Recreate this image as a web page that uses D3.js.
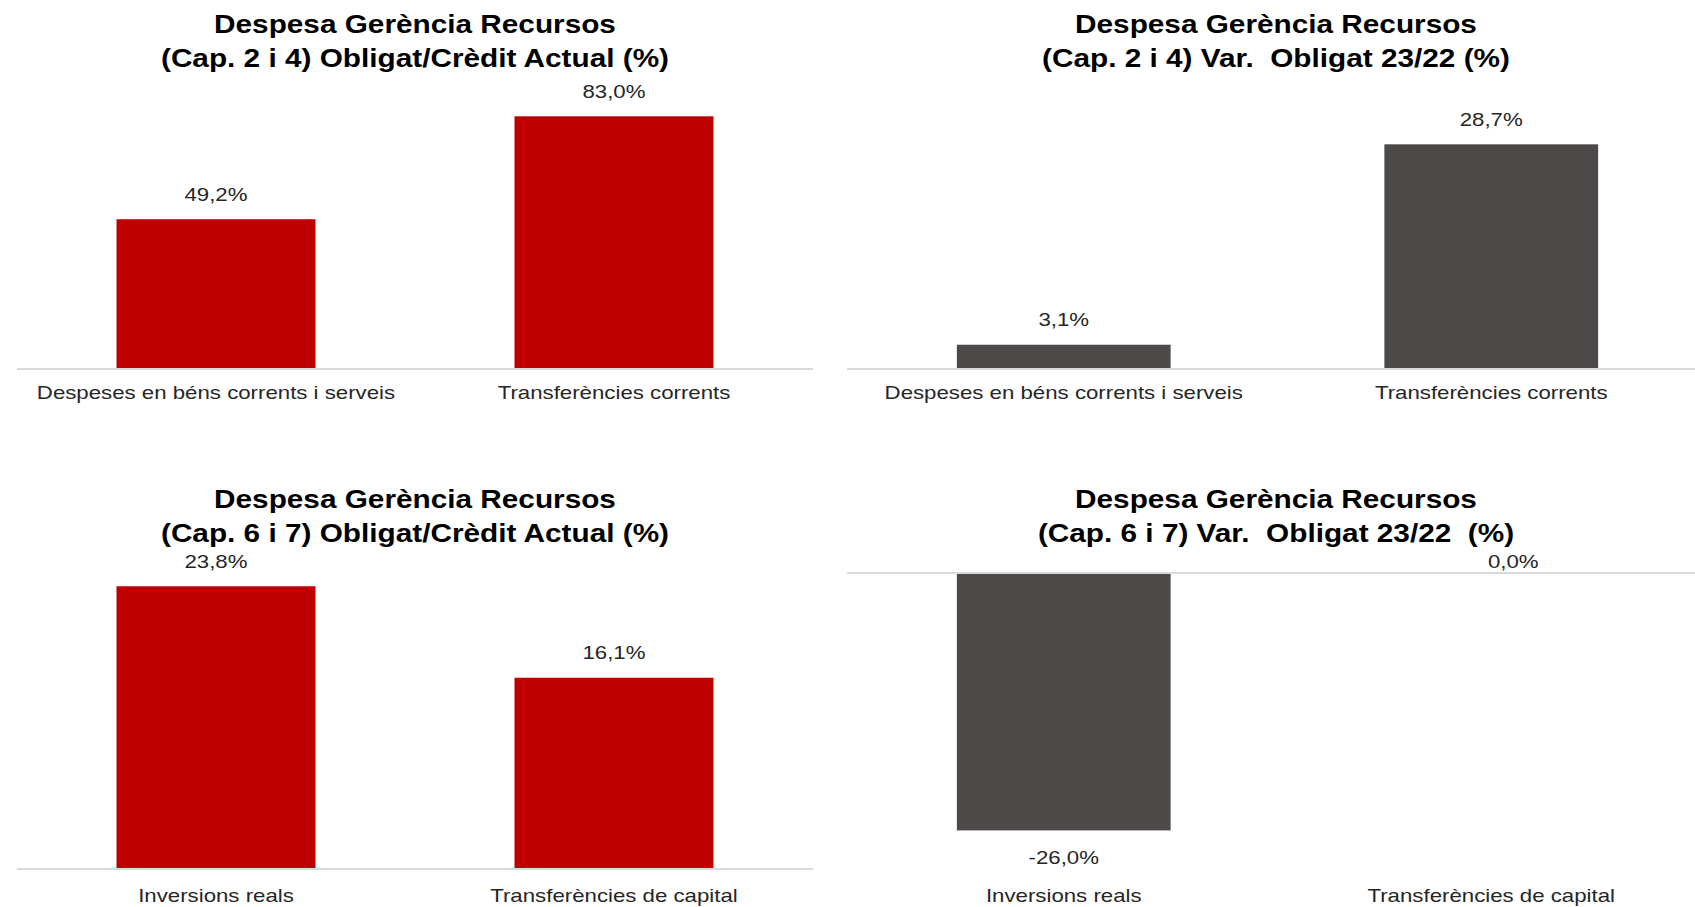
<!DOCTYPE html>
<html>
<head>
<meta charset="utf-8">
<script src="https://cdn.jsdelivr.net/npm/d3@7"></script>
<style>
    body { margin: 0; background: #ffffff; }
    svg { display: block; font-family: "Liberation Sans", Arial, sans-serif; }
    text { white-space: pre; }
</style>
</head>
<body>
<svg id="chart" width="1695" height="907"></svg>
<script>
(() => {

    // chart data
    const titles_cap24 = ['Despesa Gerència Recursos', '(Cap. 2 i 4) Obligat/Crèdit Actual (%)'];
    const titles_cap24_var = ['Despesa Gerència Recursos', '(Cap. 2 i 4) Var.  Obligat 23/22 (%)'];
    const titles_cap67 = ['Despesa Gerència Recursos', '(Cap. 6 i 7) Obligat/Crèdit Actual (%)'];
    const titles_cap67_var = ['Despesa Gerència Recursos', '(Cap. 6 i 7) Var.  Obligat 23/22  (%)'];

    const categories_cap24 = ['Despeses en béns corrents i serveis', 'Transferències corrents'];
    const categories_cap67 = ['Inversions reals', 'Transferències de capital'];

    const credit_cap24 = [49.2, 83.0];
    const var_cap24 = [3.1, 28.7];
    const credit_cap67 = [23.8, 16.1];
    const var_cap67 = [-26.0, 0.0];

    // y domains of each chart
    const domain_credit_cap24 = [0, 90];
    const domain_var_cap24 = [0, 35];
    const domain_credit_cap67 = [0, 25];
    const domain_var_cap67 = [-30, 0];

    const red = '#c00000';
    const grey = '#4d4948';

    // text is a bit wider than plain Arial in the original
    const title_stretch = 1.19;
    const label_stretch = 1.17;

    const locale = d3.formatLocale({ decimal: ',', thousands: '.', grouping: [3], currency: ['', '€'], minus: '-' });
    const fmt = (v) => locale.format('.1f')(v) + '%';

    const panels = [
        { titles: titles_cap24, cats: categories_cap24, values: credit_cap24, domain: domain_credit_cap24, color: red,
          x_range: [17, 813], line: [17, 813], y_range: [369, 95], title_y: 24, cat_y: 392 },
        { titles: titles_cap24_var, cats: categories_cap24, values: var_cap24, domain: domain_var_cap24, color: grey,
          x_range: [850, 1705], line: [847, 1705], y_range: [369, 95], title_y: 24, cat_y: 392 },
        { titles: titles_cap67, cats: categories_cap67, values: credit_cap67, domain: domain_credit_cap67, color: red,
          x_range: [17, 813], line: [17, 813], y_range: [869, 572], title_y: 499, cat_y: 895 },
        { titles: titles_cap67_var, cats: categories_cap67, values: var_cap67, domain: domain_var_cap67, color: grey,
          x_range: [850, 1705], line: [847, 1705], y_range: [870, 573], title_y: 499, cat_y: 895 }
    ];

    let svg = d3.select('#chart');

    function stretch(sel, factor) {
        sel.each(function () {
            let w = this.getComputedTextLength();
            d3.select(this).attr('textLength', w * factor).attr('lengthAdjust', 'spacingAndGlyphs');
        });
    }

    panels.forEach((p) => {

        let g = svg.append('g');

        let x_scale = d3.scaleBand()
            .domain(p.cats)
            .range(p.x_range)
            .paddingInner(0.5)
            .paddingOuter(0.25);

        let y_scale = d3.scaleLinear()
            .domain(p.domain)
            .range(p.y_range);

        let rows = p.cats.map((c, i) => ({ cat: c, value: p.values[i] }));
        let zero = y_scale(0);

        // draw bars
        g.selectAll('.bar')
            .data(rows)
            .enter()
            .append('rect')
            .attr('x', (d) => x_scale(d.cat))
            .attr('width', x_scale.bandwidth())
            .attr('y', (d) => Math.min(y_scale(d.value), zero))
            .attr('height', (d) => Math.abs(y_scale(d.value) - zero))
            .style('fill', p.color);

        // zero line
        g.append('line')
            .attr('x1', p.line[0])
            .attr('x2', p.line[1])
            .attr('y1', zero)
            .attr('y2', zero)
            .style('stroke', '#d9d9d9')
            .style('stroke-width', 2);

        // value labels
        let values = g.selectAll('.value')
            .data(rows)
            .enter()
            .append('text')
            .attr('x', (d) => x_scale(d.cat) + x_scale.bandwidth() / 2 + (d.value == 0 ? 22 : 0))
            .attr('y', (d) => {
                if (d.value > 0) { return y_scale(d.value) - 25; }
                if (d.value < 0) { return y_scale(d.value) + 27; }
                return zero - 12;
            })
            .attr('dy', '0.35em')
            .text((d) => fmt(d.value))
            .style('fill', '#262626')
            .style('font-size', 19)
            .style('text-anchor', 'middle');
        stretch(values, label_stretch);

        // category labels
        let cats = g.selectAll('.cat')
            .data(p.cats)
            .enter()
            .append('text')
            .attr('x', (d) => x_scale(d) + x_scale.bandwidth() / 2)
            .attr('y', p.cat_y)
            .attr('dy', '0.35em')
            .text((d) => d)
            .style('fill', '#262626')
            .style('font-size', 19)
            .style('text-anchor', 'middle');
        stretch(cats, label_stretch);

        // title
        let title = g.selectAll('.title')
            .data(p.titles)
            .enter()
            .append('text')
            .attr('x', (p.line[0] + p.line[1]) / 2)
            .attr('y', (d, i) => p.title_y + i * 34.5)
            .attr('dy', '0.35em')
            .text((d) => d)
            .style('fill', '#000000')
            .style('font-size', 25)
            .style('font-weight', 'bold')
            .style('text-anchor', 'middle');
        stretch(title, title_stretch);
    });

})();
</script>
</body>
</html>
